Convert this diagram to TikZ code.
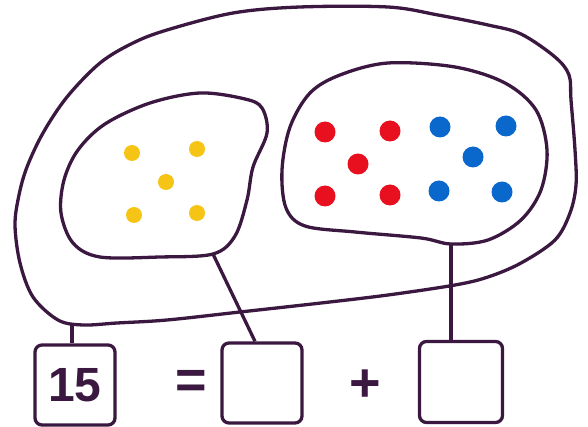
\documentclass[tikz,border=0pt]{standalone}
\usepackage{fontspec}
\setmainfont{Liberation Sans}
\usetikzlibrary{positioning,calc}
\definecolor{tinta}{HTML}{3A1840}
\definecolor{amarillo}{HTML}{F5C414}
\definecolor{rojo}{HTML}{E8101E}
\definecolor{azul}{HTML}{0A68CC}
\tikzset{
  trazo/.style={draw=tinta, line width=3.3pt, line cap=round, line join=round},
  casilla/.style={
    rectangle, rounded corners=7pt, draw=tinta, line width=3.3pt,
    minimum width=80pt, minimum height=80pt, inner sep=0pt,
    font=\fontsize{48}{48}\selectfont\bfseries, text=tinta},
  signo/.style={font=\fontsize{54}{54}\selectfont\bfseries, text=tinta, inner sep=0pt},
  punto/.style={circle, minimum size=#1, inner sep=0pt},
  punto/.default=20pt,
  enlace/.style={trazo, line cap=butt}
}

\begin{document}
\begin{tikzpicture}[x=1pt,y=-1pt]
\useasboundingbox (0,0) rectangle (588,427);

% conjunto grande
\draw[trazo] plot[smooth cycle, tension=0.55] coordinates {
  (300,7) (388,7) (438,15) (488,25) (521,34) (555,57) (569,75) (571,100)
  (575,150) (576,185) (570,213) (555,240) (521,263) (488,277) (455,285)
  (388,295) (321,303) (240,312) (167,320) (117,323) (83,325) (58,320)
  (33,297) (20,263) (15,225) (19,195) (27,167) (43,133) (67,97)
  (100,63) (133,43) (167,30) (233,13)};

% conjunto amarillo
\draw[trazo] plot[smooth cycle, tension=0.55] coordinates {
  (150,103) (200,93) (245,99) (262,108) (267,133) (253,167) (247,200)
  (235,236) (213,254) (160,257) (100,257) (73,243) (61,213) (64,180)
  (78,150) (105,124)};

% conjunto rojo y azul
\draw[trazo] plot[smooth cycle, tension=0.55] coordinates {
  (388,63) (455,67) (505,83) (536,110) (547,150) (541,190) (521,220)
  (488,240) (451,244) (421,238) (355,232) (305,226) (286,208) (282,170)
  (290,127) (310,93) (340,75)};

\coordinate (pieTotal) at (72,325);
\coordinate (pieAmar)  at (213,254);
\coordinate (pieRoAz)  at (451,244);

\foreach \x/\y in {132/153,197/149,166/182,134/215,197/213}
  \node[punto=16pt, fill=amarillo] at (\x,\y) {};
\foreach \x/\y in {325/132,390/131,358/164,325/196,390/195}
  \node[punto=21pt, fill=rojo] at (\x,\y) {};
\foreach \x/\y in {440/127,506/126,473/157,439/191,502/192}
  \node[punto=21pt, fill=azul] at (\x,\y) {};

\node[casilla] (total) at (75,385) {15};
\node[casilla] (parte1) at (262,383) {};
\node[casilla, minimum width=83pt, minimum height=81pt] (parte2) at (461,382) {};
\node[signo] (igual) at (191,384) {=};
\node[signo] (mas) at (365,386) {+};

\draw[enlace] (pieTotal) -- (pieTotal |- total.north);
\draw[enlace] (pieAmar) -- ([xshift=-7pt]parte1.north);
\draw[enlace] (pieRoAz) -- (pieRoAz |- parte2.north);

\end{tikzpicture}
\end{document}
